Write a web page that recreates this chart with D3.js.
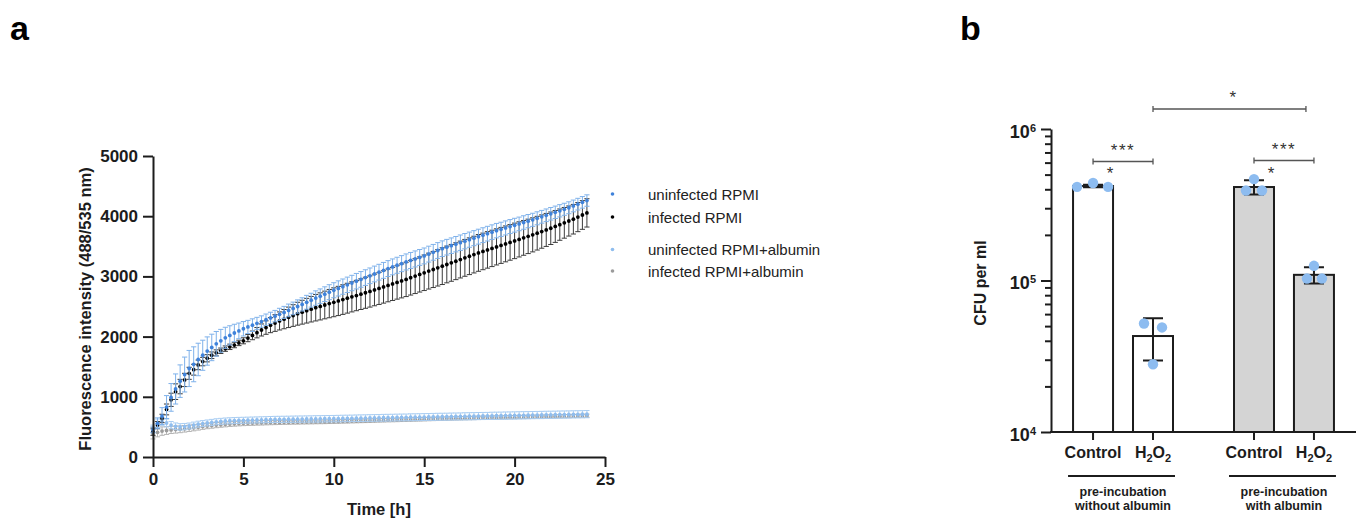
<!DOCTYPE html>
<html>
<head>
<meta charset="utf-8">
<script src="https://cdn.jsdelivr.net/npm/d3@7"></script>
<style>
  body { margin: 0; background: #fff; }
  text { font-family: "Liberation Sans", Arial, sans-serif; }
</style>
</head>
<body>
<div id="chart"></div>
<script>
// ---- panel a: kinetic readout, one reading every 15 min ----
var timeH = d3.range(0, 24.001, 0.25);

var uninfRPMI = [450, 560, 680, 830, 990,
  1130, 1260, 1370, 1470, 1540, 1620, 1690, 1760, 1820, 1880, 1930, 1980,
  2020, 2060, 2095, 2130, 2160, 2190, 2220, 2250, 2280, 2310, 2340, 2370,
  2402, 2435, 2468, 2500, 2535, 2570, 2605, 2640, 2672, 2705, 2738, 2770,
  2800, 2830, 2860, 2890, 2920, 2950, 2980, 3010, 3040, 3070, 3100, 3130,
  3158, 3185, 3212, 3240, 3265, 3290, 3315, 3340, 3370, 3400, 3430, 3460,
  3485, 3510, 3535, 3560, 3585, 3610, 3635, 3660, 3685, 3710, 3735, 3760,
  3782, 3805, 3828, 3850, 3872, 3895, 3918, 3940, 3965, 3990, 4015, 4040,
  4065, 4090, 4115, 4140, 4170, 4200, 4230, 4260];
var uninfRPMIsd = [50, 90, 140, 190, 230,
  250, 270, 290, 300, 290, 270, 250, 235, 220, 205, 190, 175,
  160, 145, 130, 120, 110, 105, 100, 95, 95, 95, 95, 100,
  100, 105, 105, 110, 110, 115, 115, 120, 120, 122, 124, 125,
  126, 127, 128, 128, 129, 130, 130, 130, 131, 131, 132, 132,
  132, 133, 133, 133, 133, 133, 132, 132, 132, 131, 131, 130,
  130, 129, 128, 128, 127, 126, 125, 124, 123, 122, 121, 120,
  118, 117, 116, 115, 113, 112, 110, 109, 108, 106, 105, 104,
  103, 102, 100, 99, 98, 97, 96, 95];

var infRPMI = [420, 530, 640, 790, 950,
  1085, 1170, 1280, 1390, 1450, 1530, 1585, 1640, 1690, 1730, 1765, 1800,
  1830, 1860, 1895, 1930, 1975, 2020, 2065, 2110, 2150, 2190, 2225, 2260,
  2290, 2320, 2350, 2380, 2405, 2430, 2455, 2480, 2502, 2525, 2548, 2570,
  2592, 2615, 2638, 2660, 2682, 2705, 2728, 2750, 2775, 2800, 2825, 2850,
  2875, 2900, 2925, 2950, 2978, 3005, 3032, 3060, 3088, 3115, 3142, 3170,
  3198, 3225, 3252, 3280, 3308, 3335, 3362, 3390, 3415, 3440, 3465, 3490,
  3515, 3540, 3565, 3590, 3615, 3640, 3665, 3690, 3718, 3745, 3772, 3800,
  3830, 3860, 3890, 3920, 3950, 3985, 4020, 4055];
var infRPMIsd = [60, 60, 70, 90, 110,
  130, 120, 110, 100, 90, 80, 70, 60, 55, 50, 45, 45,
  45, 45, 45, 50, 60, 72, 86, 100, 112, 125, 138, 150,
  160, 170, 180, 190, 198, 205, 212, 220, 225, 230, 235, 240,
  243, 246, 248, 250, 252, 255, 258, 260, 263, 266, 269, 272,
  275, 278, 282, 285, 288, 290, 292, 295, 298, 300, 302, 305,
  305, 306, 306, 306, 306, 305, 305, 305, 304, 303, 302, 300,
  299, 298, 296, 295, 292, 289, 286, 283, 280, 277, 274, 270,
  265, 260, 255, 250, 246, 242, 238, 235];

var uninfAlb = [470, 560, 590, 565, 530,
  510, 500, 505, 515, 530, 545, 555, 565, 575, 585, 592, 598,
  602, 605, 608, 610, 612, 614, 616, 618, 620, 622, 624, 625,
  626, 627, 628, 629, 630, 631, 632, 633, 634, 635, 636, 637,
  638, 640, 641, 642, 644, 645, 646, 648, 649, 650, 652, 653,
  654, 656, 657, 658, 660, 661, 662, 664, 665, 666, 668, 669,
  670, 672, 673, 674, 676, 677, 678, 680, 681, 682, 684, 685,
  686, 688, 689, 690, 692, 693, 694, 696, 697, 698, 700, 701,
  702, 704, 705, 706, 708, 709, 710, 712];
var uninfAlbSd = [60, 70, 70, 65, 60,
  56, 54, 52, 50, 50, 50, 50, 50, 50, 50, 50, 50,
  50, 50, 50, 50, 50, 50, 50, 50, 50, 51, 51, 51,
  51, 51, 52, 52, 52, 52, 52, 53, 53, 53, 53, 53,
  54, 54, 54, 54, 54, 55, 55, 55, 55, 55, 56, 56,
  56, 56, 56, 56, 57, 57, 57, 57, 57, 58, 58, 58,
  58, 58, 58, 58, 59, 59, 59, 59, 59, 59, 60, 60,
  60, 60, 60, 60, 60, 60, 60, 60, 60, 60, 60, 60,
  60, 60, 60, 60, 60, 60, 60, 60];

var infAlb = [380, 410, 430, 440, 450,
  455, 460, 468, 476, 485, 495, 505, 515, 522, 530, 536, 542,
  547, 552, 556, 560, 562, 564, 566, 568, 570, 572, 573, 575,
  576, 577, 578, 579, 580, 581, 582, 583, 584, 585, 586, 588,
  590, 592, 594, 596, 598, 600, 602, 604, 606, 608, 610, 612,
  614, 616, 618, 620, 622, 624, 626, 628, 630, 632, 634, 636,
  638, 640, 642, 644, 645, 647, 648, 650, 652, 653, 655, 656,
  658, 659, 661, 662, 664, 665, 667, 668, 670, 671, 673, 674,
  676, 677, 679, 680, 682, 683, 685, 686];
var infAlbSd = [80, 75, 70, 65, 60,
  58, 56, 54, 52, 50, 48, 46, 45, 44, 43, 42, 41,
  40, 40, 39, 39, 38, 38, 37, 37, 36, 36, 35, 35,
  34, 34, 33, 33, 32, 32, 32, 31, 31, 31, 30, 30,
  30, 30, 30, 30, 30, 30, 30, 30, 29, 29, 29, 29,
  29, 29, 29, 29, 29, 29, 29, 29, 28, 28, 28, 28,
  28, 28, 28, 28, 28, 28, 28, 28, 27, 27, 27, 27,
  27, 27, 27, 27, 27, 27, 27, 27, 26, 26, 26, 26,
  26, 26, 26, 26, 26, 26, 26, 26];

var seriesNames = ["uninfected RPMI", "infected RPMI", "uninfected RPMI+albumin", "infected RPMI+albumin"];
var yTicksA = [0, 1000, 2000, 3000, 4000, 5000];
var xTicksA = [0, 5, 10, 15, 20, 25];

// ---- panel b: CFU counts ----
var groups = ["pre-incubation without albumin", "pre-incubation with albumin"];
var treatments = ["Control", "H2O2"];
var cfuMean = [[420000, 43000], [414000, 109000]];
var cfuSd = [[8000, 13300], [45000, 13500]];
var cfuReps = [[[415000, 440000, 415000], [52000, 49000, 28000]],
               [[467000, 393000, 393000], [125000, 103000, 103000]]];
var sigStars = ["***", "***", "*"];

function init(){
  var svg = d3.select("#chart").append("svg")
      .attr("width", 1361).attr("height", 519);

  var ink = "#1c1c1c";

  svg.append("text").attr("x", 10).attr("y", 40)
     .attr("font-size", 34).attr("font-weight", "bold").text("a");
  svg.append("text").attr("x", 960).attr("y", 40)
     .attr("font-size", 34).attr("font-weight", "bold").text("b");

  // ================= panel a =================
  var x = d3.scaleLinear().domain([0, 25]).range([153, 605]);
  var y = d3.scaleLinear().domain([0, 5000]).range([457, 156]);

  var series = [
    {name: seriesNames[3], mean: infAlb, sd: infAlbSd, dot: "#9b9b9b", bar: "#b4b4b4"},
    {name: seriesNames[2], mean: uninfAlb, sd: uninfAlbSd, dot: "#8fbdee", bar: "#a9cdf2"},
    {name: seriesNames[1], mean: infRPMI, sd: infRPMIsd, dot: "#000000", bar: "#3b3b3b"},
    {name: seriesNames[0], mean: uninfRPMI, sd: uninfRPMIsd, dot: "#3f82da", bar: "#7eb1ea"}
  ];

  var plotA = svg.append("g");
  var cap = 2.6;
  series.forEach(function(s){
    var g = plotA.append("g");
    var pts = timeH.map(function(t, i){ return {t: t, m: s.mean[i], sd: s.sd[i]}; });
    g.selectAll("path.eb").data(pts).enter().append("path")
      .attr("fill", "none").attr("stroke", s.bar).attr("stroke-width", 1)
      .attr("d", function(d){
        var cx = x(d.t), y0 = y(d.m - d.sd), y1 = y(d.m + d.sd);
        return "M" + cx + "," + y0 + "V" + y1 +
               "M" + (cx - cap) + "," + y1 + "H" + (cx + cap) +
               "M" + (cx - cap) + "," + y0 + "H" + (cx + cap);
      });
    g.selectAll("circle").data(pts).enter().append("circle")
      .attr("cx", function(d){ return x(d.t); })
      .attr("cy", function(d){ return y(d.m); })
      .attr("r", 1.9).attr("fill", s.dot);
  });

  var yAxisA = svg.append("g").attr("transform", "translate(153,0)")
      .call(d3.axisLeft(y).tickValues(yTicksA).tickFormat(d3.format("d"))
            .tickSize(10).tickSizeOuter(0).tickPadding(5));
  var xAxisA = svg.append("g").attr("transform", "translate(0,457)")
      .call(d3.axisBottom(x).tickValues(xTicksA).tickFormat(d3.format("d"))
            .tickSize(10).tickSizeOuter(0).tickPadding(6));
  [yAxisA, xAxisA].forEach(function(a){
    a.selectAll("path, line").attr("stroke", ink).attr("stroke-width", 2);
    a.selectAll("text").attr("font-size", 17).attr("font-weight", "bold")
      .attr("fill", ink).attr("font-family", "Liberation Sans, Arial, sans-serif");
  });

  svg.append("text").attr("transform", "translate(91,309) rotate(-90)")
     .attr("text-anchor", "middle").attr("font-size", 16.5).attr("font-weight", "bold")
     .attr("fill", ink).text("Fluorescence intensity (488/535 nm)");
  svg.append("text").attr("x", 379).attr("y", 515)
     .attr("text-anchor", "middle").attr("font-size", 16.5).attr("font-weight", "bold")
     .attr("fill", ink).text("Time [h]");

  // legend
  var legendY = [194, 217, 249.5, 271];
  var legendCol = ["#3f82da", "#000000", "#8fbdee", "#9b9b9b"];
  var leg = svg.append("g").selectAll("g").data(seriesNames).enter().append("g")
      .attr("transform", function(d, i){ return "translate(0," + legendY[i] + ")"; });
  leg.append("circle").attr("cx", 612.5).attr("cy", 0).attr("r", 1.8)
     .attr("fill", function(d, i){ return legendCol[i]; });
  leg.append("text").attr("x", 648).attr("y", 5.5).attr("font-size", 15)
     .attr("fill", "#222").text(function(d){ return d; });

  // ================= panel b =================
  var yb = d3.scaleLog().domain([1e4, 1e6]).range([432, 129]);
  var xg = d3.scaleBand().domain(groups).range([1051, 1356])
      .paddingInner(0.379).paddingOuter(0.137);
  var xt = d3.scaleBand().domain(treatments).range([0, xg.bandwidth()])
      .paddingInner(0.333).paddingOuter(0);

  var bars = [];
  groups.forEach(function(gname, gi){
    treatments.forEach(function(tname, ti){
      bars.push({g: gname, gi: gi, t: tname, ti: ti,
                 m: cfuMean[gi][ti], sd: cfuSd[gi][ti], reps: cfuReps[gi][ti]});
    });
  });
  function barX(d){ return xg(d.g) + xt(d.t); }
  function barC(d){ return barX(d) + xt.bandwidth() / 2; }

  var plotB = svg.append("g");
  plotB.selectAll("rect").data(bars).enter().append("rect")
    .attr("x", barX).attr("width", xt.bandwidth())
    .attr("y", function(d){ return yb(d.m); })
    .attr("height", function(d){ return yb(1e4) - yb(d.m); })
    .attr("fill", function(d){ return d.gi === 0 ? "#ffffff" : "#d4d4d4"; })
    .attr("stroke", ink).attr("stroke-width", 2);

  var capB = 10;
  plotB.selectAll("path.err").data(bars).enter().append("path")
    .attr("fill", "none").attr("stroke", ink).attr("stroke-width", 2)
    .attr("d", function(d){
      var cx = barC(d), y0 = yb(d.m - d.sd), y1 = yb(d.m + d.sd);
      return "M" + cx + "," + y0 + "V" + y1 +
             "M" + (cx - capB) + "," + y1 + "H" + (cx + capB) +
             "M" + (cx - capB) + "," + y0 + "H" + (cx + capB);
    });

  // spread of the replicate dots around the bar centre (layout only)
  var spread = [[-16, 0, 15], [-9, 9, 0], [0, -8, 8], [0, -7, 8]];
  bars.forEach(function(d, bi){
    plotB.selectAll("circle.r" + bi).data(d.reps).enter().append("circle")
      .attr("cx", function(v, k){ return barC(d) + spread[bi][k]; })
      .attr("cy", function(v){ return yb(v); })
      .attr("r", 5.2).attr("fill", "#8dbcf0");
  });

  // y axis (log) with minor ticks
  var majors = [1e4, 1e5, 1e6];
  var minors = [];
  [1e4, 1e5].forEach(function(dec){
    for (var k = 2; k <= 9; k++) minors.push(k * dec);
  });
  var yAxisMinor = svg.append("g").attr("transform", "translate(1051,0)")
      .call(d3.axisLeft(yb).tickValues(minors).tickSize(6).tickFormat(""));
  var yAxisB = svg.append("g").attr("transform", "translate(1051,0)")
      .call(d3.axisLeft(yb).tickValues(majors).tickSize(10).tickSizeOuter(0).tickPadding(5)
            .tickFormat(function(){ return ""; }));
  yAxisMinor.select(".domain").remove();
  [yAxisMinor, yAxisB].forEach(function(a){
    a.selectAll("path, line").attr("stroke", ink).attr("stroke-width", 2);
  });
  yAxisB.selectAll(".tick text").each(function(v){
    var t = d3.select(this).attr("font-size", 18).attr("font-weight", "bold")
      .attr("fill", ink).attr("font-family", "Liberation Sans, Arial, sans-serif")
      .attr("dy", "0.45em");
    t.append("tspan").text("10");
    t.append("tspan").attr("dy", "-0.55em").attr("font-size", 11).text(Math.round(Math.log10(v)));
  });

  // x axis of panel b
  svg.append("line").attr("x1", 1050).attr("x2", 1356).attr("y1", 432).attr("y2", 432)
     .attr("stroke", ink).attr("stroke-width", 2);
  var xlab = svg.append("g").selectAll("g").data(bars).enter().append("g")
      .attr("transform", function(d){ return "translate(" + barC(d) + ",432)"; });
  xlab.append("line").attr("y1", 0).attr("y2", 8).attr("stroke", ink).attr("stroke-width", 2);
  xlab.append("text").attr("y", 26).attr("text-anchor", "middle")
    .attr("font-size", 16).attr("font-weight", "bold").attr("fill", ink)
    .each(function(d){
      var t = d3.select(this);
      if (d.t === "H2O2") {
        t.append("tspan").text("H");
        t.append("tspan").attr("dy", 4).attr("font-size", 11).text("2");
        t.append("tspan").attr("dy", -4).text("O");
        t.append("tspan").attr("dy", 4).attr("font-size", 11).text("2");
      } else {
        t.text(d.t);
      }
    });

  var grp = svg.append("g").selectAll("g").data(groups).enter().append("g")
      .attr("transform", function(d){ return "translate(" + (xg(d) + xg.bandwidth() / 2) + ",0)"; });
  grp.append("line").attr("x1", -xg.bandwidth() / 2 - 5).attr("x2", xg.bandwidth() / 2 + 2)
     .attr("y1", 476).attr("y2", 476).attr("stroke", ink).attr("stroke-width", 2);
  grp.append("text").attr("text-anchor", "middle").attr("font-size", 12.5)
     .attr("font-weight", "bold").attr("fill", ink)
     .each(function(d){
       var words = d.split(" ");
       d3.select(this).append("tspan").attr("x", 0).attr("y", 496).text(words[0]);
       d3.select(this).append("tspan").attr("x", 0).attr("y", 510).text(words.slice(1).join(" "));
     });

  svg.append("text").attr("transform", "translate(986,283) rotate(-90)")
     .attr("text-anchor", "middle").attr("font-size", 16).attr("font-weight", "bold")
     .attr("fill", ink).text("CFU per ml");

  // significance brackets
  var brackets = [
    {a: bars[0], b: bars[1], y: 161.5, star: sigStars[0]},
    {a: bars[2], b: bars[3], y: 160.5, star: sigStars[1]},
    {a: bars[1], b: bars[3], y: 109, star: sigStars[2]}
  ];
  var br = svg.append("g").selectAll("g").data(brackets).enter().append("g");
  br.append("path").attr("fill", "none").attr("stroke", "#555").attr("stroke-width", 1.3)
    .attr("d", function(d){
      var x0 = barC(d.a), x1 = barC(d.b) - (d.b === bars[3] && d.a === bars[1] ? 8 : 0);
      return "M" + x0 + "," + (d.y - 3) + "V" + (d.y + 3) + "M" + x0 + "," + d.y +
             "H" + x1 + "M" + x1 + "," + (d.y - 3) + "V" + (d.y + 3);
    });
  br.append("text").attr("text-anchor", "middle").attr("font-size", 17)
    .attr("letter-spacing", 1.5).attr("fill", "#333")
    .attr("x", function(d){ return (barC(d.a) + barC(d.b)) / 2; })
    .attr("y", function(d){ return d.y - 6; })
    .text(function(d){ return d.star; });
  // single stars above the control bars
  svg.append("g").selectAll("text").data([bars[0], bars[2]]).enter().append("text")
    .attr("text-anchor", "middle").attr("font-size", 17).attr("fill", "#333")
    .attr("x", function(d){ return barC(d) + 17; })
    .attr("y", 179).text("*");
}

window.onload = init;
</script>
</body>
</html>
